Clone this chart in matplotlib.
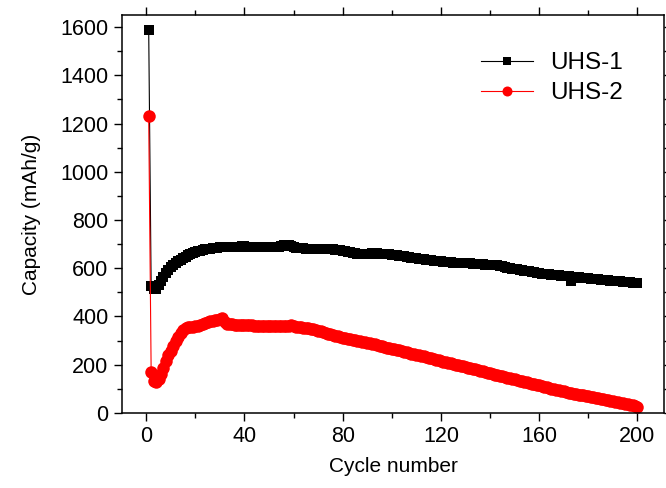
import matplotlib
matplotlib.use("Agg")
import matplotlib.pyplot as plt
from matplotlib.ticker import MultipleLocator

plt.rcParams['font.family'] = ['Liberation Sans', 'DejaVu Sans']

cycles = list(range(1, 201))

uhs1 = [
    1590, 525, 515, 515, 530, 548, 565, 580, 592, 603,
    612, 621, 629, 636, 642, 648, 653, 658, 662, 666,
    670, 673, 676, 678, 680, 681, 683, 684, 685, 686,
    687, 688, 688, 689, 689, 690, 690, 690, 691, 691,
    690, 690, 689, 689, 688, 688, 687, 687, 686, 686,
    686, 686, 687, 688, 692, 697, 698, 697, 694, 688,
    684, 683, 682, 682, 681, 681, 681, 680, 680, 680,
    680, 679, 679, 678, 678, 678, 677, 676, 675, 673,
    671, 669, 667, 665, 663, 661, 660, 659, 659, 660,
    661, 662, 662, 662, 661, 660, 659, 658, 657, 656,
    654, 653, 652, 650, 649, 647, 646, 644, 643, 641,
    640, 638, 637, 636, 635, 633, 632, 631, 630, 628,
    627, 626, 625, 624, 623, 622, 622, 623, 623, 622,
    621, 620, 619, 618, 618, 617, 616, 615, 614, 613,
    613, 612, 612, 611, 611, 603, 601, 600, 598, 597,
    595, 593, 592, 590, 588, 587, 585, 583, 581, 579,
    578, 576, 575, 574, 573, 572, 571, 570, 569, 568,
    567, 566, 546, 564, 563, 562, 561, 560, 559, 558,
    557, 556, 555, 554, 553, 552, 551, 550, 549, 548,
    547, 546, 545, 544, 543, 542, 541, 540, 539, 537,
]

uhs2 = [
    1232, 170, 132, 130, 140, 160, 185, 215, 238, 258,
    278, 298, 315, 330, 342, 350, 355, 357, 358, 359,
    362, 366, 370, 374, 377, 380, 383, 385, 387, 389,
    392, 375, 367, 368, 367, 366, 366, 365, 365, 364,
    364, 363, 363, 362, 362, 361, 361, 360, 360, 360,
    359, 359, 359, 359, 359, 359, 359, 360, 364, 360,
    357, 356, 355, 353, 352, 350, 348, 346, 343, 341,
    338, 335, 332, 329, 326, 323, 320, 317, 314, 312,
    310, 307, 305, 303, 301, 299, 297, 295, 293, 291,
    289, 286, 284, 281, 279, 276, 273, 271, 268, 266,
    264, 261, 259, 256, 254, 251, 249, 246, 244, 241,
    239, 236, 234, 231, 229, 226, 224, 221, 219, 216,
    213, 211, 208, 206, 203, 200, 198, 195, 193, 190,
    187, 185, 182, 180, 177, 175, 172, 169, 167, 164,
    162, 159, 157, 154, 151, 149, 146, 144, 141, 139,
    136, 134, 131, 129, 126, 124, 121, 119, 116, 114,
    111, 109, 106, 104, 101, 99, 96, 94, 91, 89,
    86, 84, 82, 80, 78, 76, 74, 72, 70, 68,
    66, 64, 62, 60, 58, 56, 54, 52, 50, 48,
    46, 44, 42, 40, 38, 36, 34, 31, 28, 25,
]

labels = ["UHS-1", "UHS-2"]
xticks = [0, 40, 80, 120, 160, 200]
yticks = [0, 200, 400, 600, 800, 1000, 1200, 1400, 1600]

fig = plt.figure(figsize=(6.66, 4.88), dpi=100)
ax = fig.add_axes([0.1827, 0.154, 0.815, 0.815])

ax.plot(cycles, uhs1, color='black', marker='s', markersize=7.8, lw=0.8,
        markeredgewidth=0, label=labels[0])
ax.plot(cycles, uhs2, color='red', marker='o', markersize=9, lw=0.8,
        markeredgewidth=0, label=labels[1])

ax.set_xlim(-10, 211)
ax.set_ylim(0, 1650)
ax.set_xticks(xticks)
ax.set_yticks(yticks)
ax.xaxis.set_minor_locator(MultipleLocator(20))
ax.yaxis.set_minor_locator(MultipleLocator(100))
ax.tick_params(which='both', direction='out', top=True, right=True,
               labelsize=15.5, width=1.0)
ax.tick_params(which='major', length=6)
ax.tick_params(which='minor', length=3.5)
for s in ax.spines.values():
    s.set_linewidth(1.1)

ax.set_xlabel("Cycle number", fontsize=15, labelpad=7)
ax.set_ylabel("Capacity (mAh/g)", fontsize=15, labelpad=14)

leg = ax.legend(loc='upper left', bbox_to_anchor=(480.7 / 666, 1 - 52 / 488),
                bbox_transform=fig.transFigure, frameon=False, fontsize=17.5,
                borderpad=0, borderaxespad=0, handlelength=2.15,
                handletextpad=0.7, labelspacing=0.33, markerscale=0.8)

fig.savefig("out.png", dpi=100)
